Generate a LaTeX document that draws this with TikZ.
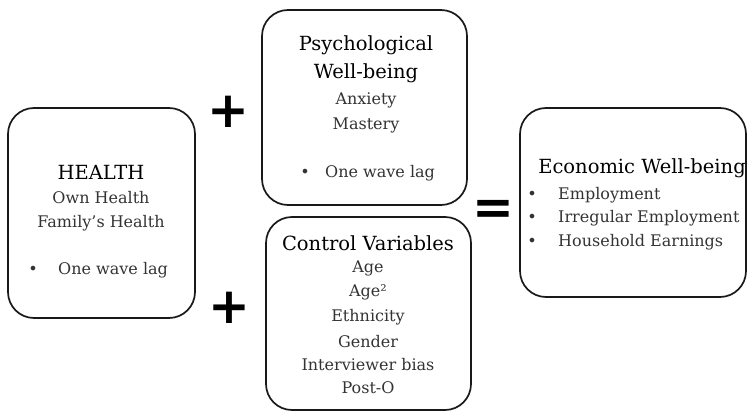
\documentclass[tikz,border=0pt]{standalone}
\usepackage{fontspec}
\setmainfont{DejaVu Serif}
\newfontfamily\symfont{DejaVu Sans}
\begin{document}
\begin{tikzpicture}[x=1pt,y=-1pt,
  box/.style={draw=black!90, line width=1.7pt, rounded corners=26pt, inner sep=0pt},
  ttl/.style={inner sep=0pt, font=\fontsize{19.5}{19.5}\selectfont, text=black},
  itm/.style={inner sep=0pt, font=\fontsize{16}{16}\selectfont, text=black!80},
  sym/.style={inner sep=0pt, font=\symfont\bfseries\fontsize{50}{50}\selectfont}]
\useasboundingbox (0,0) rectangle (749,412);
% boxes
\draw[box] (8,108) rectangle (195,318);
\node (health) at (101.5,213) {};
\draw[box] (262,10) rectangle (467,205);
\node (psych) at (364.5,107.5) {};
\draw[box] (266,217) rectangle (471,410);
\node (control) at (368.5,313.5) {};
\draw[box] (520,108) rectangle (746,297);
\node (econ) at (633,202.5) {};
% health text
\node[ttl] (h1) at (101,172) {HEALTH};
\node[itm] (h2) at (101,198) {Own Health};
\node[itm] (h3) at (101,223) {Family’s Health};
\node[itm] (hb) at (33,270) {•};
\node[itm, anchor=west] (h4) at (58,270) {One wave lag};
% psych text
\node[ttl] (p1) at (366,45) {Psychological};
\node[ttl] (p2) at (366,73) {Well-being};
\node[itm] (p3) at (366,100) {Anxiety};
\node[itm] (p4) at (366,125) {Mastery};
\node[itm] (pb) at (305,173) {•};
\node[itm, anchor=west] (p5) at (325,173) {One wave lag};
% control text
\node[ttl] (c1) at (368,243) {Control Variables};
\node[itm] (c2) at (368,268) {Age};
\node[itm] (c3) at (368,292) {Age²};
\node[itm] (c4) at (368,317) {Ethnicity};
\node[itm] (c5) at (368,342) {Gender};
\node[itm] (c6) at (368,365) {Interviewer bias};
\node[itm] (c7) at (368,388) {Post-O};
% economic text
\node[ttl] (e1) at (642,168) {Economic Well-being};
\node[itm] (eb1) at (532,195) {•};
\node[itm, anchor=west] (e2) at (558,195) {Employment};
\node[itm] (eb2) at (532,218) {•};
\node[itm, anchor=west] (e3) at (558,218) {Irregular Employment};
\node[itm] (eb3) at (532,242) {•};
\node[itm, anchor=west] (e4) at (558,242) {Household Earnings};
% operators
\node[sym] (plus1) at (228,112) {+};
\node[sym] (plus2) at (229,308) {+};
\node[sym] (eq) at (493,212) {=};
\end{tikzpicture}
\end{document}
